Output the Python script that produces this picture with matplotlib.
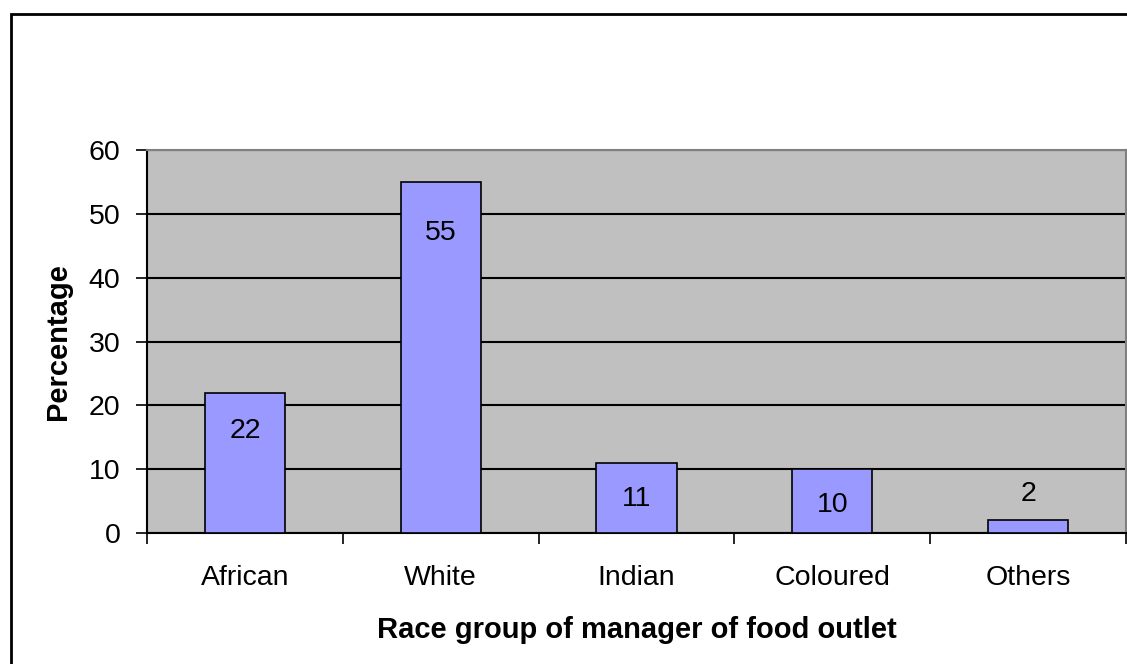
import matplotlib
matplotlib.use("Agg")
import matplotlib.pyplot as plt
from matplotlib.patches import Rectangle

plt.rcParams['font.family'] = ['Liberation Sans', 'DejaVu Sans']

groups = ["African", "White", "Indian", "Coloured", "Others"]
percent = [22, 55, 11, 10, 2]
# vertical offset (points) of each value label from the bar top
label_offset = [-28, -37, -26, -26, 19]

fig = plt.figure(figsize=(11.27, 6.64), dpi=100)
ax = fig.add_axes([147 / 1127, 1 - 533 / 664, (1126 - 147) / 1127, (533 - 150) / 664])

# outer chart frame (only left and top edges fall inside the canvas)
fig.patches.append(Rectangle((11 / 1127, -0.1), 1.2, 1 - 14 / 664 + 0.1,
                             transform=fig.transFigure, fill=False,
                             edgecolor="black", linewidth=2, zorder=0))

ax.set_facecolor("#C0C0C0")
x = list(range(len(groups)))
ax.bar(x, percent, width=0.41, color="#9999FF", edgecolor="black", linewidth=1.2, zorder=3)

for xi, v, off in zip(x, percent, label_offset):
    ax.annotate(str(v), (xi, v), xytext=(0, off), textcoords="offset points",
                ha="center", va="center", fontsize=20.5, zorder=4)

ax.set_xlim(-0.5, len(groups) - 0.5)
ax.set_ylim(0, 60)
ax.set_yticks(range(0, 61, 10))
ax.yaxis.grid(True, color="black", linewidth=1.5, zorder=1)
ax.set_axisbelow(True)

ax.set_xticks([i - 0.5 for i in range(len(groups) + 1)])
ax.set_xticklabels([])
ax.set_xticks(x, minor=True)
ax.set_xticklabels(groups, minor=True, fontsize=20.5)
ax.tick_params(axis="x", which="minor", length=0, pad=23)
ax.tick_params(axis="x", which="major", length=8, width=1.2, direction="out")
ax.tick_params(axis="y", length=8, width=1.2, direction="out", labelsize=20.5, pad=11)

for side in ("top", "right"):
    ax.spines[side].set_color("#808080")
    ax.spines[side].set_linewidth(1.5)
for side in ("left", "bottom"):
    ax.spines[side].set_color("black")
    ax.spines[side].set_linewidth(1.5)

ax.set_ylabel("Percentage", fontsize=21, fontweight="bold", labelpad=12)
ax.set_xlabel("Race group of manager of food outlet", fontsize=21, fontweight="bold", labelpad=18)

fig.savefig("out.png", dpi=100)
